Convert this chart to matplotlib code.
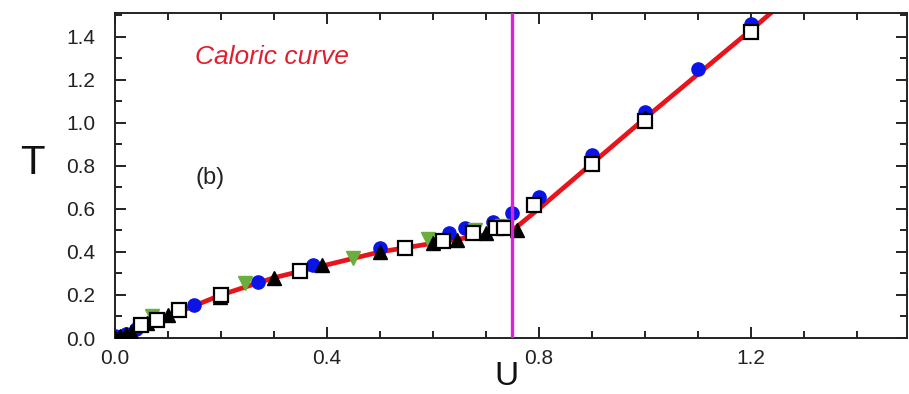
import numpy as np
import matplotlib
matplotlib.use('Agg')
import matplotlib.pyplot as plt
from matplotlib.ticker import MultipleLocator, FormatStrFormatter

plt.rcParams['font.family'] = ['Liberation Sans', 'DejaVu Sans']

# red fitted curve
curve_u = [0.0, 0.1, 0.2, 0.3, 0.4, 0.5, 0.6, 0.7, 0.75, 0.8, 1.0, 1.2, 1.3]
curve_t = [0.0, 0.10, 0.20, 0.28, 0.34, 0.40, 0.44, 0.48, 0.50, 0.60, 1.02, 1.43, 1.64]

# blue circles
blue_u = [0.0, 0.02, 0.04, 0.15, 0.27, 0.374, 0.50, 0.63, 0.66, 0.713, 0.75, 0.80, 0.90, 1.0, 1.1, 1.2]
blue_t = [0.01, 0.02, 0.04, 0.153, 0.26, 0.34, 0.42, 0.49, 0.51, 0.54, 0.58, 0.655, 0.85, 1.05, 1.25, 1.46]

# green down triangles
green_u = [0.07, 0.245, 0.45, 0.59, 0.68, 0.73]
green_t = [0.10, 0.255, 0.37, 0.46, 0.50, 0.52]

# black up triangles
black_u = [0.0, 0.01, 0.02, 0.03, 0.06, 0.10, 0.198, 0.30, 0.39, 0.50, 0.60, 0.645, 0.70, 0.758, 1.0]
black_t = [0.0, 0.01, 0.02, 0.03, 0.07, 0.107, 0.19, 0.28, 0.34, 0.40, 0.44, 0.455, 0.49, 0.50, 1.02]

# open squares
square_u = [0.05, 0.08, 0.12, 0.20, 0.35, 0.547, 0.62, 0.675, 0.72, 0.735, 0.79, 0.90, 1.0, 1.2]
square_t = [0.06, 0.084, 0.13, 0.20, 0.31, 0.42, 0.45, 0.49, 0.51, 0.51, 0.62, 0.81, 1.01, 1.42]

transition_u = 0.75

fig = plt.figure(figsize=(9.09, 3.94), dpi=100)
ax = fig.add_axes([115/909, 56/394, 792/909, 325/394])

ax.plot(curve_u, curve_t, color='#e8141c', lw=3.4, zorder=2)
ax.axvline(transition_u, color='#e01ee0', lw=2.4, zorder=5)

ax.plot(blue_u, blue_t, 'o', color='#0a14e6', ms=9.5, mec='#0a14e6', zorder=3)
ax.plot(green_u, green_t, 'v', color='#6aae3c', ms=10, mec='#6aae3c', zorder=3)
ax.plot(black_u, black_t, '^', color='black', ms=10, zorder=4)
ax.plot(square_u, square_t, 's', mfc='white', mec='black', mew=1.6, ms=9.5, zorder=4)

ax.set_xlim(0, 1.495)
ax.set_ylim(0, 1.51)
ax.xaxis.set_major_locator(MultipleLocator(0.4))
ax.xaxis.set_minor_locator(MultipleLocator(0.1))
ax.yaxis.set_major_locator(MultipleLocator(0.2))
ax.yaxis.set_minor_locator(MultipleLocator(0.1))
ax.xaxis.set_major_formatter(FormatStrFormatter('%.1f'))
ax.yaxis.set_major_formatter(FormatStrFormatter('%.1f'))

ax.tick_params(which='both', direction='in', top=True, right=True, width=1.4, colors='#222222')
ax.tick_params(which='major', length=8, labelsize=15, pad=8)
ax.tick_params(which='minor', length=5)
ax.tick_params(axis='y', which='major', pad=14)
for s in ax.spines.values():
    s.set_linewidth(1.4)
    s.set_color('#222222')

ax.text(0.151, 1.307, 'Caloric curve', color='#e02030', fontsize=19, style='italic', va='center', ha='left')
ax.text(0.152, 0.744, '(b)', color='#222222', fontsize=17, va='center', ha='left')

fig.text(32/909, 1 - 163/394, 'T', fontsize=29, ha='center', va='center', color='#111111')
fig.text(506/909, 0.004, 'U', fontsize=24, ha='center', va='bottom', color='#111111')

fig.savefig('out.png', dpi=100)
